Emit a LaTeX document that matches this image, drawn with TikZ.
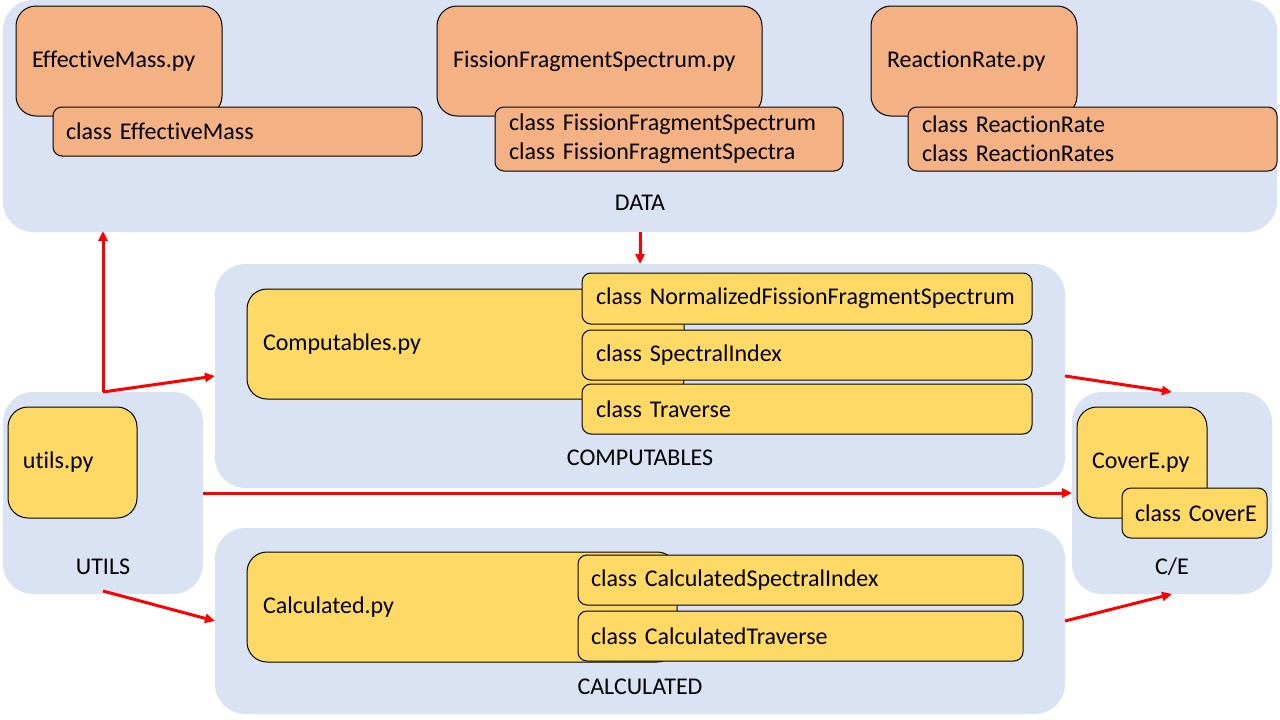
\documentclass[tikz,border=0pt]{standalone}
\usepackage{fontspec}
\setmainfont{Carlito}[Ligatures={NoCommon},WordSpace=0.8]
\usetikzlibrary{arrows.meta}
\definecolor{panelblue}{HTML}{DAE3F3}
\definecolor{orfill}{HTML}{F4B183}
\definecolor{yefill}{HTML}{FFD966}
\definecolor{arrred}{HTML}{FF0000}
\begin{document}
\begin{tikzpicture}[x=1pt,y=-1pt,
  font=\fontsize{24}{29}\selectfont,
  panel/.style={fill=panelblue, draw=none, rounded corners=30pt, anchor=north west, inner sep=0pt, outer sep=0pt},
  box/.style={draw=black, line width=1pt, anchor=north west, align=left, inner ysep=0pt, outer sep=0pt},
  pybox/.style={box, rounded corners=20pt, inner xsep=16pt},
  clbox/.style={box, rounded corners=9pt, inner xsep=14pt},
  orange/.style={fill=orfill},
  yellow/.style={fill=yefill},
  plabel/.style={inner sep=0pt},
  conn/.style={draw=arrred, line width=3pt, -{Triangle[length=10pt,width=9pt]}}
]
\useasboundingbox (0,0) rectangle (1280,720);

% panels
\node[panel, minimum width=1274pt, minimum height=232pt] (data) at (3,0) {};
\node[panel, minimum width=850pt, minimum height=224pt] (comp) at (215,264) {};
\node[panel, minimum width=200pt, minimum height=202pt] (utils) at (3,392) {};
\node[panel, minimum width=850pt, minimum height=186pt] (calc) at (215,528) {};
\node[panel, minimum width=200pt, minimum height=202pt] (ce) at (1072,392) {};

\node[plabel] (datalbl) at (640,203) {DATA};
\node[plabel] (complbl) at (640,458) {COMPUTABLES};
\node[plabel] (utilslbl) at (103,567) {UTILS};
\node[plabel] (calclbl) at (640,687) {CALCULATED};
\node[plabel] (celbl) at (1172,567) {C/E};

% DATA boxes
\node[pybox, orange, text width=174pt, minimum height=110pt] (empy) at (16,6) {\mbox{EffectiveMass.py}};
\node[clbox, orange, inner xsep=13pt, text width=343pt, minimum height=49pt] (emcl) at (53,107) {\mbox{class EffectiveMass}};
\node[pybox, orange, text width=293pt, minimum height=110pt] (ffspy) at (437,6) {\mbox{FissionFragmentSpectrum.py}};
\node[clbox, orange, text width=320pt, minimum height=64pt] (ffscl) at (495,107) {\mbox{class FissionFragmentSpectrum}\\\mbox{class FissionFragmentSpectra}};
\node[pybox, orange, text width=174pt, minimum height=110pt] (rrpy) at (871,6) {\mbox{ReactionRate.py}};
\node[clbox, orange, text width=341pt, minimum height=64pt] (rrcl) at (908,107) {\mbox{class ReactionRate}\\\mbox{class ReactionRates}};

% COMPUTABLES boxes
\node[pybox, yellow, text width=405pt, minimum height=110pt] (comppy) at (247,289) {\mbox{Computables.py}};
\node[clbox, yellow, text width=422pt, minimum height=51pt] (nffs) at (582,273) {\mbox{class NormalizedFissionFragmentSpectrum}};
\node[clbox, yellow, text width=422pt, minimum height=50pt] (si) at (582,330) {\mbox{class SpectralIndex}};
\node[clbox, yellow, text width=422pt, minimum height=50pt] (trav) at (582,384) {\mbox{class Traverse}};

% UTILS
\node[pybox, yellow, inner xsep=15pt, text width=99pt, minimum height=111pt] (utilspy) at (8,407) {\mbox{utils.py}};

% CALCULATED
\node[pybox, yellow, text width=398pt, minimum height=110pt] (calcpy) at (247,552) {\mbox{Calculated.py}};
\node[clbox, yellow, inner xsep=13pt, text width=419pt, minimum height=50pt] (csi) at (578,555) {\mbox{class CalculatedSpectralIndex}};
\node[clbox, yellow, inner xsep=13pt, text width=419pt, minimum height=50pt] (ct) at (578,611) {\mbox{class CalculatedTraverse}};

% C/E
\node[pybox, yellow, inner xsep=15pt, text width=100pt, minimum height=111pt] (cepy) at (1077,407) {\mbox{CoverE.py}};
\node[clbox, yellow, inner xsep=13pt, text width=119pt, minimum height=50pt] (cecl) at (1122,488) {\mbox{class CoverE}};

% connectors
\draw[conn] (utils.north) -- ([yshift=1pt]data.south -| utils.north);
\draw[conn] (utils.north) -- (comp.west);
\draw[conn] (data.south) -- (comp.north);
\draw[conn] (comp.east) -- (ce.north);
\draw[conn] (utils.east) -- (ce.west);
\draw[conn] ([yshift=3pt]utils.south) -- (calc.west);
\draw[conn] (calc.east) -- (ce.south);
\end{tikzpicture}
\end{document}
